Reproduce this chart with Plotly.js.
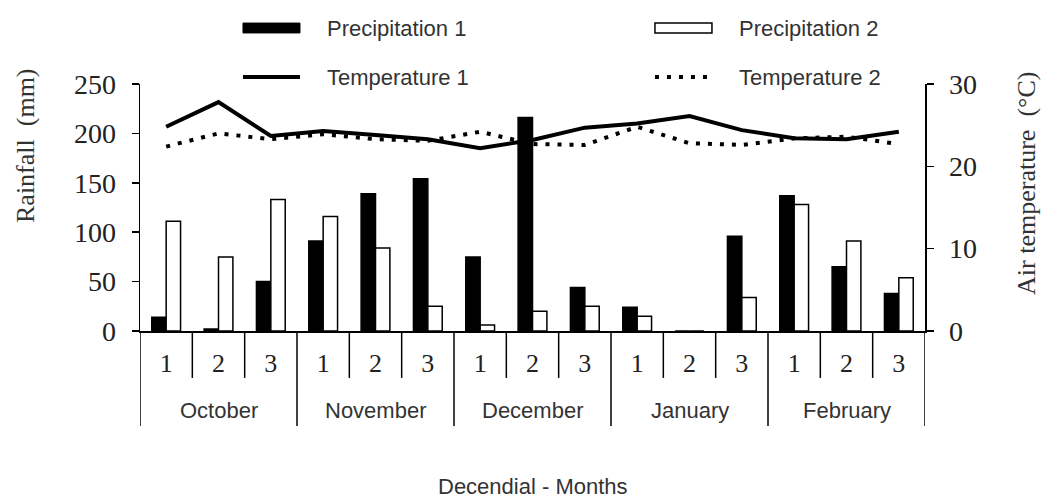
<!DOCTYPE html>
<html>
<head>
<meta charset="utf-8">
<script src="https://cdn.plot.ly/plotly-3.0.1.min.js"></script>
<style>html,body{margin:0;padding:0;background:#fff;}#chart{width:1041px;height:498px;}</style>
</head>
<body>
<div id="chart"></div>
<script>
const months = ['October', 'November', 'December', 'January', 'February'];
const decades = ['1', '2', '3'];
const precip1 = [14, 2, 50, 91, 139, 154, 75, 216, 44, 24, 0, 96, 137, 65, 38];
const precip2 = [111, 75, 133, 116, 84, 25, 6, 20, 25, 15, 0, 34, 128, 91, 54];
const temp1 = [24.8, 27.8, 23.7, 24.3, 23.8, 23.3, 22.2, 23.2, 24.7, 25.2, 26.1, 24.4, 23.4, 23.3, 24.2];
const temp2 = [22.4, 24.0, 23.3, 23.9, 23.3, 23.1, 24.2, 22.7, 22.6, 24.8, 22.8, 22.6, 23.4, 23.6, 22.7];
const seriesNames = ['Precipitation 1', 'Precipitation 2', 'Temperature 1', 'Temperature 2'];

const cats = [];
const tickText = [];
months.forEach(m => decades.forEach(d => { cats.push(m + ' ' + d); tickText.push(d); }));

const serif = 'Liberation Serif, Times New Roman, serif';
const sans = 'Liberation Sans, Arial, sans-serif';

const traces = [
  {type: 'bar', name: seriesNames[0], x: cats, y: precip1,
   marker: {color: '#000', line: {color: '#000', width: 1.5}}, showlegend: false},
  {type: 'bar', name: seriesNames[1], x: cats, y: precip2,
   marker: {color: '#fff', line: {color: '#000', width: 1.5}}, showlegend: false},
  {type: 'scatter', mode: 'lines', name: seriesNames[2], x: cats, y: temp1, yaxis: 'y2',
   line: {color: '#000', width: 4}, showlegend: false},
  {type: 'scatter', mode: 'lines', name: seriesNames[3], x: cats, y: temp2, yaxis: 'y2',
   line: {color: '#000', width: 4, dash: '4px,8px'}, showlegend: false}
];

// dividers below the category axis
const shapes = [];
for (let i = 0; i <= cats.length; i++) {
  const isMonth = i % decades.length === 0;
  shapes.push({type: 'line', xref: 'x', yref: 'paper', x0: i - 0.5, x1: i - 0.5,
    y0: 0, y1: isMonth ? -0.385 : -0.19, line: {color: '#000', width: 1.5}});
}

const annotations = [];
months.forEach((m, k) => {
  annotations.push({xref: 'x', yref: 'paper', x: k * decades.length + (decades.length - 1) / 2,
    y: -0.32, text: m, showarrow: false, xanchor: 'center', yanchor: 'middle',
    font: {family: sans, size: 22, color: '#333'}});
});
annotations.push({xref: 'paper', yref: 'paper', x: 0.5, y: -0.628, text: 'Decendial - Months',
  showarrow: false, xanchor: 'center', yanchor: 'middle', font: {family: sans, size: 22, color: '#333'}});
annotations.push({xref: 'paper', yref: 'paper', x: -0.1465, y: 0.753, text: 'Rainfall\u00a0\u00a0(mm)',
  textangle: -90, showarrow: false, xanchor: 'center', yanchor: 'middle', font: {family: serif, size: 26, color: '#333'}});
annotations.push({xref: 'paper', yref: 'paper', x: 1.1285, y: 0.599, text: 'Air temperature\u00a0\u00a0(°C)',
  textangle: -90, showarrow: false, xanchor: 'center', yanchor: 'middle', font: {family: serif, size: 26, color: '#333'}});

// legend drawn as shapes + text
const legX = [0.1312, 0.656];
const legSym = 0.0726;
const legTextDx = 0.104;
const legRowY = [1.2267, 1.0283];
shapes.push({type: 'rect', xref: 'paper', yref: 'paper', x0: legX[0], x1: legX[0] + legSym,
  y0: legRowY[0] - 0.02, y1: legRowY[0] + 0.02, fillcolor: '#000', line: {color: '#000', width: 1}});
shapes.push({type: 'rect', xref: 'paper', yref: 'paper', x0: legX[1], x1: legX[1] + legSym,
  y0: legRowY[0] - 0.02, y1: legRowY[0] + 0.02, fillcolor: '#fff', line: {color: '#000', width: 1.5}});
shapes.push({type: 'line', xref: 'paper', yref: 'paper', x0: legX[0], x1: legX[0] + legSym,
  y0: legRowY[1], y1: legRowY[1], line: {color: '#000', width: 4}});
shapes.push({type: 'line', xref: 'paper', yref: 'paper', x0: legX[1], x1: legX[1] + legSym,
  y0: legRowY[1], y1: legRowY[1], line: {color: '#000', width: 4, dash: '4px,8px'}});
const legPos = [[0, 0], [1, 0], [0, 1], [1, 1]];
seriesNames.forEach((n, k) => {
  annotations.push({xref: 'paper', yref: 'paper', x: legX[legPos[k][0]] + legTextDx, y: legRowY[legPos[k][1]],
    text: n, showarrow: false, xanchor: 'left', yanchor: 'middle', font: {family: sans, size: 22, color: '#333'}});
});

const layout = {
  width: 1041, height: 498,
  margin: {l: 140, r: 116, t: 84, b: 167, pad: 0},
  paper_bgcolor: '#fff', plot_bgcolor: '#fff',
  barmode: 'group', bargap: 0.45, bargroupgap: 0,
  showlegend: false,
  xaxis: {type: 'category', tickvals: cats, ticktext: tickText, ticks: '', showgrid: false,
    showline: true, linecolor: '#000', linewidth: 1.5, zeroline: false, range: [-0.5, cats.length - 0.5],
    ticklabelstandoff: 8, tickfont: {family: serif, size: 26, color: '#222'}},
  yaxis: {range: [0, 250], dtick: 50, ticks: 'outside', ticklen: 7, tickwidth: 1.5, tickcolor: '#000',
    showline: true, linecolor: '#000', linewidth: 1.5, showgrid: false, zeroline: false,
    ticklabelstandoff: 10, tickfont: {family: serif, size: 28, color: '#222'}},
  yaxis2: {range: [0, 30], dtick: 10, overlaying: 'y', side: 'right', ticks: 'outside', ticklen: 7,
    tickwidth: 1.5, tickcolor: '#000', showline: true, linecolor: '#000', linewidth: 1.5,
    showgrid: false, zeroline: false, ticklabelstandoff: 10, tickfont: {family: serif, size: 28, color: '#222'}},
  shapes: shapes,
  annotations: annotations
};

Plotly.newPlot('chart', traces, layout, {displayModeBar: false, staticPlot: true});
</script>
</body>
</html>
